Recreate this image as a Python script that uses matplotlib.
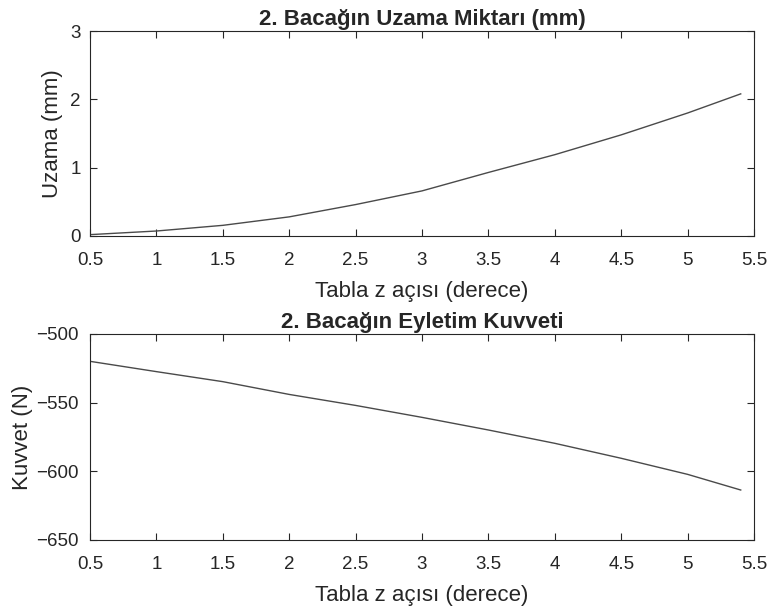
import matplotlib
matplotlib.use("Agg")
import matplotlib.pyplot as plt

plt.rcParams['font.family'] = ['Liberation Sans', 'DejaVu Sans']

x_vals = [0.5, 1.0, 1.5, 2.0, 2.5, 3.0, 3.5, 4.0, 4.5, 5.0, 5.4]
uzama = [0.02, 0.073, 0.156, 0.28, 0.46, 0.66, 0.93, 1.19, 1.48, 1.80, 2.08]
kuvvet = [-519.9, -527.4, -534.7, -544.0, -552.0, -560.7, -569.9, -579.6, -590.5, -602.2, -613.6]

xticks = [0.5, 1, 1.5, 2, 2.5, 3, 3.5, 4, 4.5, 5, 5.5]
xticklabels = ['0.5', '1', '1.5', '2', '2.5', '3', '3.5', '4', '4.5', '5', '5.5']
yticks_top = [0, 1, 2, 3]
yticks_bot = [-650, -600, -550, -500]

xlabel = 'Tabla z açısı (derece)'
title_top = '2. Bacağın Uzama Miktarı (mm)'
title_bot = '2. Bacağın Eyletim Kuvveti'
ylabel_top = 'Uzama (mm)'
ylabel_bot = 'Kuvvet (N)'

txt = '#262626'
fs_tick = 13.5
fs_lab = 16

fig = plt.figure(figsize=(7.71, 6.12), dpi=100)
W, H = 771, 612
ax1 = fig.add_axes([90 / W, 1 - 236 / H, (754 - 90) / W, (236 - 31) / H])
ax2 = fig.add_axes([90 / W, 1 - 540 / H, (754 - 90) / W, (540 - 334) / H])

for ax, y, yt, yl, tt, ylim, ypad, ylp in [
    (ax1, uzama, yticks_top, ylabel_top, title_top, (0, 3), 6.5, 5.5),
    (ax2, kuvvet, yticks_bot, ylabel_bot, title_bot, (-650, -500), 8, 2.5),
]:
    ax.plot(x_vals, y, color='#4a4a4a', lw=1.0)
    ax.set_xlim(0.5, 5.5)
    ax.set_ylim(*ylim)
    ax.set_xticks(xticks)
    ax.set_xticklabels(xticklabels)
    ax.set_yticks(yt)
    ax.set_yticklabels([str(v).replace('-', '\u2212') for v in yt])
    ax.tick_params(direction='in', top=True, right=True, length=5, width=0.8,
                   colors=txt, labelsize=fs_tick)
    ax.tick_params(axis='x', pad=11.5)
    ax.tick_params(axis='y', pad=ypad)
    for s in ax.spines.values():
        s.set_color(txt)
        s.set_linewidth(0.8)
    ax.set_xlabel(xlabel, fontsize=fs_lab, color=txt, labelpad=9)
    ax.set_ylabel(yl, fontsize=fs_lab, color=txt, labelpad=ylp)
    ax.set_title(tt, fontsize=fs_lab, fontweight='bold', color=txt, pad=4)

fig.savefig('out.png', dpi=100)
